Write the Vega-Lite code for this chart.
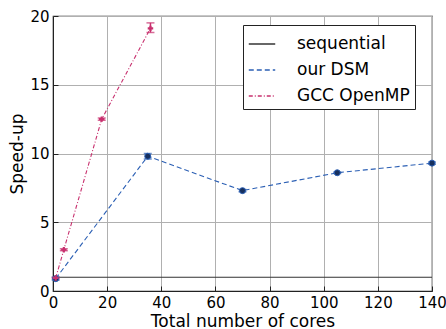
{
  "$schema": "https://vega.github.io/schema/vega-lite/v6.json",
  "autosize": "none",
  "width": 379,
  "height": 275,
  "padding": {"left": 53, "top": 16, "right": 14, "bottom": 38},
  "background": "white",
  "config": {
    "font": "DejaVu Sans",
    "view": {"stroke": "#222", "strokeWidth": 1.2},
    "axis": {
      "gridColor": "#b0b0b0", "gridWidth": 1, "gridOpacity": 1,
      "domainColor": "#222", "tickColor": "#222", "tickSize": -5,
      "labelFontSize": 15, "labelColor": "#000", "titleFontSize": 17, "titleFontWeight": "normal", "titleColor": "#000",
      "labelOverlap": false, "labelBound": false, "labelFlush": false
    }
  },
  "data": {"values": [
    {"series": "sequential", "x": 0, "y": 1},
    {"series": "sequential", "x": 140, "y": 1},
    {"series": "our DSM", "x": 1, "y": 0.9, "lo": 0.8, "hi": 1.0},
    {"series": "our DSM", "x": 35, "y": 9.8, "lo": 9.6, "hi": 10.0},
    {"series": "our DSM", "x": 70, "y": 7.3, "lo": 7.22, "hi": 7.38},
    {"series": "our DSM", "x": 105, "y": 8.6, "lo": 8.55, "hi": 8.65},
    {"series": "our DSM", "x": 140, "y": 9.3, "lo": 9.22, "hi": 9.38},
    {"series": "GCC OpenMP", "x": 1, "y": 0.95, "lo": 0.9, "hi": 1.0},
    {"series": "GCC OpenMP", "x": 4, "y": 3.0, "lo": 2.93, "hi": 3.07},
    {"series": "GCC OpenMP", "x": 18, "y": 12.5, "lo": 12.42, "hi": 12.58},
    {"series": "GCC OpenMP", "x": 36, "y": 19.1, "lo": 18.8, "hi": 19.5}
  ]},
  "encoding": {
    "x": {"field": "x", "type": "quantitative", "scale": {"domain": [0, 140], "nice": false}, "axis": {"title": "Total number of cores", "values": [0,20,40,60,80,100,120,140], "labelPadding": 9, "titlePadding": 3}},
    "y": {"field": "y", "type": "quantitative", "scale": {"domain": [0, 20], "nice": false}, "axis": {"title": "Speed-up", "values": [0,5,10,15,20], "labelPadding": 9, "titlePadding": 3}}
  },
  "layer": [
    {
      "mark": {"type": "line", "strokeWidth": 1.1, "clip": true},
      "encoding": {
        "color": {"field": "series", "type": "nominal", "scale": {"domain": ["sequential", "our DSM", "GCC OpenMP"], "range": ["#333333", "#2b5fb4", "#c8306e"]},
          "legend": {"title": null, "orient": "none", "legendX": 190, "legendY": 9, "labelFontSize": 17, "labelColor": "#000", "symbolSize": 700, "symbolStrokeWidth": 1.5, "strokeColor": "#222", "padding": 5, "rowPadding": 4, "labelOffset": 21, "fillColor": "white"}},
        "strokeDash": {"field": "series", "type": "nominal", "scale": {"domain": ["sequential", "our DSM", "GCC OpenMP"], "range": [[1, 0], [5, 3], [4, 2, 1, 2]]}, "legend": {"title": null, "orient": "none", "legendX": 190, "legendY": 9, "labelFontSize": 17, "labelColor": "#000", "symbolSize": 700, "symbolStrokeWidth": 1.5, "strokeColor": "#222", "padding": 5, "rowPadding": 4, "labelOffset": 21, "fillColor": "white"}}
      }
    },
    {
      "transform": [{"filter": "datum.series !== 'sequential'"}],
      "mark": {"type": "rule", "strokeWidth": 1.5},
      "encoding": {
        "y": {"field": "lo", "type": "quantitative"},
        "y2": {"field": "hi"},
        "color": {"field": "series", "type": "nominal", "legend": null}
      }
    },
    {
      "transform": [{"filter": "datum.series !== 'sequential'"}],
      "mark": {"type": "tick", "orient": "horizontal", "thickness": 1.5, "size": 8},
      "encoding": {
        "y": {"field": "lo", "type": "quantitative"},
        "color": {"field": "series", "type": "nominal", "legend": null}
      }
    },
    {
      "transform": [{"filter": "datum.series !== 'sequential'"}],
      "mark": {"type": "tick", "orient": "horizontal", "thickness": 1.5, "size": 8},
      "encoding": {
        "y": {"field": "hi", "type": "quantitative"},
        "color": {"field": "series", "type": "nominal", "legend": null}
      }
    },
    {
      "transform": [{"filter": "datum.series === 'our DSM'"}],
      "mark": {"type": "point", "shape": "circle", "filled": true, "size": 36, "color": "#17305e", "stroke": "#2b5fb4", "strokeWidth": 1, "opacity": 1}
    },
    {
      "transform": [{"filter": "datum.series === 'GCC OpenMP'"}],
      "mark": {"type": "point", "shape": "cross", "filled": true, "size": 30, "color": "#c8306e", "opacity": 1}
    }
  ]
}
